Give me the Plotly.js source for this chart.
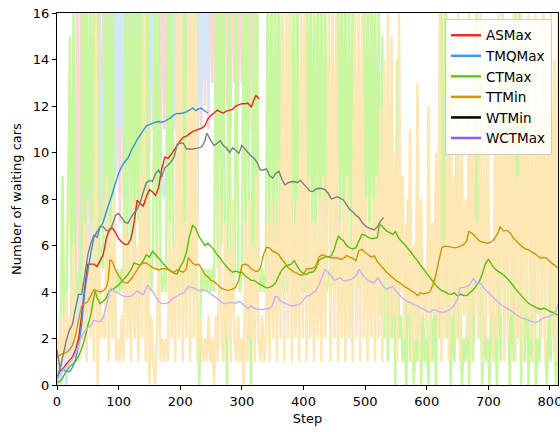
<!DOCTYPE html>
<html>
<head>
<meta charset="utf-8">
<script src="https://cdn.plot.ly/plotly-3.0.1.min.js"></script>
<style>html,body{margin:0;padding:0;background:#fff;}#chart{width:560px;height:432px;}</style>
</head>
<body>
<div id="chart"></div>
<script>
// ---- series names ----
var seriesNames = ["ASMax", "TMQMax", "CTMax", "TTMin", "WTMin", "WCTMax"];

// ---- raw (unsmoothed) samples, one value every RAW_STEP steps ----
var RAW_STEP = 3;
var rawASMax = [0,1,0,2,1,3,1,2,4,2, 3,18,2,19,3,17,5,12,4,15, 6,16,5,18,7,17,8,19,6,16,
  8,18,9,17,7,19,8,16,9,18, 8,17,10,19,9,16,11,18,9,17, 10,19,11,18,10,17,9,20,11,18,
  10,19,12,17,11,18,10,19,12,17, 11,20,12,18,10,19,13,17,11,19, 12,18,11,20,13,17,12,19,11,18,
  13,19,12,17,11,20,13,18,12,19, 13,18,12,20,11,17,13,19,12,18];
var rawTMQMax = [0,1,0,1,2,0,1,2,1,3, 2,4,3,6,2,9,4,8,5,12, 6,14,7,16,8,13,9,17,8,15,
  10,18,9,19,11,17,10,20,9,18, 11,17,10,19,12,18,11,20,10,17, 12,19,11,18,13,9,8,9,8,9,
  13,18,12,20,11,19,13,17,12,18, 8,9,7,8,9,8,7,19,12,20, 13,18,12];
var rawCTMax = [0,1,2,9,2,3,8,15,3,17, 3,4,5,4,18,6,20,5,17,7, 19,4,16,5,6,5,18,4,20,6,
  17,5,4,5,4,5,4,16,5,19, 6,18,4,17,7,20,5,16,4,18, 5,4,6,19,5,17,5,4,5,4,
  18,6,20,5,4,5,4,6,17,5, 19,4,5,4,16,5,3,0,5,4, 5,4,5,4,5,4,18,5,20,6,
  17,5,0,18,6,5,4,19,5,4, 5,17,6,20,5,0,16,4,18,5, 4,5,4,5,18,6,19,5,17,6,
  20,5,4,5,4,5,18,6,17,4, 19,5,4,5,4,18,6,20,5,16, 4,19,6,17,5,18,4,5,4,5,
  4,5,20,6,18,5,19,4,17,6, 18,5,4,5,4,5,19,6,17,5, 20,4,18,6,16,3,15,2,9,1,
  12,2,7,0,14,2,3,1,2,0, 8,1,3,0,2,1,5,0,3,1, 2,0,4,1,3,0,9,2,17,3,
  16,2,6,0,3,1,10,2,4,0, 2,1,3,0,6,1,4,16,2,5, 0,3,1,2,0,4,1,3,0,7,
  1,16,2,15,3,0,5,1,17,2, 16,0,4,1,6,0,3,1,8,0, 2,1,5,16,2,0,3,1,10,2, 0,3];
var rawTTMin = [2,1,3,1,2,4,1,3,2,6, 1,2,1,3,2,7,1,8,2,6, 1,16,0,5,2,3,2,9,1,7,
  2,8,1,2,1,3,1,7,2,6, 1,8,2,6,1,9,2,17,1,8, 0,3,1,0,2,6,1,2,1,2,
  1,7,2,6,1,17,2,18,1,7, 2,16,1,18,2,17,1,3,2,1, 2,1,3,1,2,0,3,1,8,2,
  1,7,2,6,1,8,2,1,3,1, 2,0,7,1,8,2,6,1,9,2, 1,3,1,2,7,1,8,2,7,1,
  8,2,17,1,18,2,16,1,7,2, 8,1,17,2,18,1,9,2,7,1, 7,2,8,1,9,2,6,17,1,18,
  2,16,1,7,2,8,1,9,2,6, 1,17,2,18,1,16,2,8,1,7, 2,8,1,9,2,12,1,14,3,16,
  2,15,3,10,1,16,4,9,2,7, 3,11,1,6,2,13,1,8,3,5, 2,12,1,7,3,10,2,16,1,6,
  2,16,1,15,3,9,2,16,1,11, 3,8,2,16,1,14,3,7,2,16, 1,10,2,12,3,6,1,11,2,16,
  3,16,1,15,2,14,3,16,1,9, 2,16,1,13,3,16,2,10,1,16, 3,12,2,16,1,15,3,16,2,14, 1,16];

// ---- smoothed curves: [step, value] ----
var smASMax = [[0,0.3],[5,0.6],[10,0.7],[15,0.9],[20,1.05],[25,1.2],[30,1.5],[35,2.0],[40,3.0],[45,4.2],
  [50,5.2],[55,5.2],[60,5.2],[65,5.1],[70,5.35],[75,5.6],[80,6.3],[85,6.7],[90,6.75],[95,6.55],
  [100,6.3],[105,6.15],[110,6.05],[115,6.05],[120,6.3],[125,6.95],[130,7.95],[135,7.8],[140,7.7],[145,8.1],
  [150,8.4],[155,8.3],[160,8.15],[165,8.5],[170,9.3],[175,9.8],[180,9.75],[185,9.9],[190,10.1],[195,10.3],
  [200,10.5],[205,10.65],[210,10.7],[215,10.8],[220,10.9],[225,10.95],[230,11.0],[235,11.05],[240,11.15],[245,11.45],
  [250,11.6],[255,11.7],[260,11.82],[265,11.75],[270,11.7],[275,11.78],[280,11.82],[285,11.85],[290,12.0],[295,12.05],
  [300,12.1],[305,12.1],[310,12.12],[315,11.95],[320,12.3],[323,12.45],[325,12.4],[328,12.3]];
var smTMQMax = [[0,0.3],[5,0.7],[10,0.65],[15,0.6],[20,0.57],[25,0.75],[30,1.1],[35,1.7],[40,2.6],[45,4.0],
  [50,4.9],[55,5.7],[60,6.35],[65,6.6],[70,6.8],[75,7.0],[80,7.45],[85,7.85],[90,8.25],[95,8.7],
  [100,9.1],[105,9.4],[110,9.6],[115,9.75],[120,10.05],[125,10.3],[130,10.55],[135,10.75],[140,10.95],[145,11.15],
  [150,11.2],[155,11.25],[160,11.3],[165,11.33],[170,11.3],[175,11.35],[180,11.42],[185,11.5],[190,11.62],[195,11.68],
  [200,11.68],[205,11.7],[210,11.75],[215,11.82],[220,11.92],[225,11.8],[230,11.88],[235,11.9],[240,11.78],[245,11.7]];
var smCTMax = [[0,0.1],[5,0.15],[10,0.35],[15,0.6],[20,0.78],[25,0.9],[30,1.0],[35,1.25],[40,1.55],[45,2.0],
  [50,2.55],[55,3.05],[60,3.8],[62,4.05],[65,3.75],[70,3.5],[75,3.6],[80,3.75],[85,4.05],[90,4.1],
  [95,4.2],[100,4.3],[105,4.45],[110,4.6],[115,4.75],[120,4.95],[125,5.25],[130,5.2],[135,5.15],[140,5.35],
  [145,5.6],[150,5.5],[155,5.75],[160,5.6],[165,5.45],[170,5.3],[175,5.15],[180,5.0],[185,4.9],[190,4.8],
  [195,4.78],[200,5.1],[205,5.3],[210,5.7],[215,6.4],[220,6.86],[225,6.75],[230,6.4],[235,6.2],[240,6.0],
  [245,6.1],[250,5.95],[255,5.8],[260,5.6],[265,5.45],[270,5.25],[275,5.1],[280,4.95],[285,4.85],[290,4.9],
  [295,4.85],[300,4.85],[305,4.7],[310,4.6],[315,4.5],[320,4.5],[325,4.4],[330,4.32],[335,4.25],[340,4.18],
  [345,4.2],[350,4.27],[355,4.4],[360,4.7],[365,4.95],[370,5.1],[375,5.15],[380,5.2],[385,5.35],[390,5.1],
  [395,4.9],[400,4.8],[405,4.75],[410,4.85],[415,4.85],[420,5.0],[425,5.35],[430,5.45],[435,5.5],[440,5.52],
  [445,5.55],[450,5.85],[455,6.3],[457,6.4],[460,6.3],[465,6.2],[470,6.0],[475,5.9],[480,5.85],[485,5.9],
  [490,6.2],[495,6.48],[500,6.45],[505,6.35],[510,6.3],[515,6.3],[520,6.35],[523,6.9],[527,6.85],[530,6.75],
  [535,6.62],[540,6.55],[545,6.48],[549,6.6],[555,6.3],[560,6.15],[565,6.02],[570,5.85],[575,5.7],[580,5.5],
  [585,5.35],[590,5.15],[595,4.98],[600,4.8],[605,4.62],[610,4.45],[615,4.28],[620,4.15],[625,4.05],[630,4.0],
  [635,3.92],[640,3.9],[645,3.96],[650,3.83],[655,3.9],[660,3.85],[665,3.85],[670,3.97],[675,4.08],[680,4.25],
  [685,4.45],[690,4.75],[695,5.2],[700,5.41],[705,5.2],[710,5.02],[715,4.9],[720,4.82],[725,4.72],[730,4.6],
  [735,4.45],[740,4.28],[745,4.1],[750,3.95],[755,3.8],[760,3.65],[765,3.52],[770,3.43],[775,3.37],[780,3.3],
  [785,3.26],[790,3.3],[795,3.25],[800,3.16],[805,3.12],[810,3.05],[813,3.0]];
var smTTMin = [[0,1.2],[5,1.3],[10,1.35],[15,1.4],[20,1.5],[25,1.7],[30,2.1],[35,2.8],[40,3.4],[45,3.5],
  [50,3.6],[55,3.85],[60,4.1],[65,4.05],[70,4.0],[75,4.05],[80,4.2],[83,4.5],[86,5.4],[90,5.3],
  [95,4.95],[100,4.7],[105,4.5],[110,4.4],[115,4.4],[120,4.55],[125,4.75],[130,4.95],[135,5.15],[140,5.25],
  [145,5.25],[150,5.15],[155,5.05],[160,5.0],[165,4.95],[170,5.0],[175,5.0],[180,4.98],[185,4.88],[190,4.85],
  [195,4.95],[200,4.9],[205,4.85],[210,5.0],[213,5.47],[217,5.35],[220,5.25],[225,5.15],[230,5.2],[235,5.0],
  [240,4.75],[245,4.65],[250,4.5],[255,4.45],[260,4.32],[265,4.2],[270,4.12],[275,4.08],[280,4.08],[285,4.12],
  [290,4.2],[295,4.5],[300,5.15],[305,5.2],[310,5.15],[315,5.0],[320,4.92],[325,4.88],[330,5.0],[335,5.6],
  [340,5.92],[345,5.9],[350,5.75],[355,5.7],[360,5.6],[365,5.4],[370,5.25],[375,5.05],[380,4.95],[385,4.85],
  [390,4.8],[395,4.72],[400,4.75],[405,5.0],[410,5.0],[415,5.02],[420,5.1],[425,5.5],[430,5.6],[435,5.55],
  [440,5.5],[445,5.47],[450,5.47],[455,5.47],[460,5.4],[465,5.45],[470,5.57],[475,5.5],[480,5.45],[485,5.35],
  [490,5.78],[495,5.84],[500,5.7],[505,5.6],[510,5.5],[515,5.55],[520,5.3],[525,5.15],[530,5.0],[535,4.85],
  [540,4.72],[545,4.62],[550,4.5],[555,4.42],[560,4.32],[565,4.22],[570,4.15],[575,4.05],[580,3.98],[585,3.85],
  [590,3.97],[595,3.92],[600,3.95],[605,4.0],[610,4.3],[615,4.75],[620,5.4],[625,5.92],[630,5.97],[635,5.95],
  [640,5.93],[645,5.9],[650,5.92],[655,5.97],[660,6.05],[665,6.2],[668,6.6],[672,6.55],[676,6.47],[680,6.35],
  [685,6.2],[690,6.15],[695,6.12],[700,6.1],[705,6.15],[710,6.3],[715,6.5],[719,6.8],[725,6.62],[730,6.65],
  [735,6.55],[740,6.35],[745,6.2],[750,6.08],[755,5.95],[760,5.85],[765,5.82],[770,5.72],[775,5.66],[780,5.55],
  [785,5.45],[790,5.48],[795,5.45],[800,5.3],[805,5.2],[810,5.1],[813,5.03]];
var smWTMin = [[0,1.5],[5,0.7],[10,1.3],[15,1.9],[20,2.35],[25,2.6],[30,3.3],[35,3.9],[40,3.9],[45,4.7],
  [50,5.6],[55,6.1],[60,6.45],[65,6.35],[70,6.8],[75,6.8],[80,6.65],[85,6.6],[90,6.9],[95,7.3],
  [100,7.38],[105,7.2],[110,7.0],[115,6.95],[120,7.2],[125,7.4],[130,7.55],[135,7.85],[140,8.3],[145,8.7],
  [150,8.8],[155,8.75],[160,9.1],[165,9.25],[170,8.95],[175,9.35],[180,9.45],[185,9.6],[190,9.8],[195,10.35],
  [200,10.4],[205,10.4],[210,10.15],[215,10.15],[220,10.15],[225,10.18],[230,10.2],[235,10.25],[240,10.5],[243,10.83],
  [245,10.75],[250,10.5],[255,10.3],[260,10.4],[265,10.5],[270,10.3],[275,10.2],[280,10.0],[285,10.2],[290,10.1],
  [295,9.96],[300,10.3],[305,10.15],[310,10.0],[315,9.85],[320,9.75],[325,9.55],[330,9.25],[335,9.25],[340,9.3],
  [345,9.0],[350,8.9],[355,9.1],[360,9.2],[365,8.85],[370,8.6],[375,8.7],[380,8.74],[385,8.75],[390,8.7],
  [395,8.8],[400,8.65],[405,8.5],[410,8.35],[415,8.32],[420,8.42],[425,8.46],[430,8.45],[435,8.4],[440,8.25],
  [445,8.0],[450,8.05],[455,8.1],[460,8.03],[465,7.95],[470,7.75],[475,7.55],[480,7.45],[485,7.3],[490,7.2],
  [495,7.0],[500,6.85],[505,6.76],[510,6.72],[515,6.68],[520,6.8],[525,7.05],[530,7.2]];
var smWCTMax = [[0,0.2],[5,0.45],[10,0.65],[15,0.8],[20,0.95],[25,1.1],[30,1.35],[35,1.7],[40,2.1],[45,2.3],
  [50,2.45],[55,2.55],[60,2.78],[65,2.75],[70,2.72],[75,2.9],[80,3.4],[85,4.0],[88,4.18],[90,4.1],
  [95,4.0],[100,3.96],[105,3.85],[110,3.8],[115,3.8],[120,3.82],[125,3.92],[130,4.05],[135,3.95],[140,3.88],
  [145,4.2],[148,4.28],[150,4.15],[155,4.05],[160,3.8],[165,3.6],[170,3.5],[175,3.5],[180,3.52],[185,3.65],
  [190,3.75],[195,3.82],[200,3.92],[205,3.95],[210,4.1],[213,4.25],[217,4.2],[222,4.18],[227,4.1],[232,4.05],
  [237,4.12],[242,4.05],[246,4.0],[250,3.9],[255,3.82],[260,3.72],[265,3.6],[270,3.5],[275,3.5],[280,3.55],
  [285,3.55],[290,3.52],[295,3.6],[300,3.52],[305,3.4],[310,3.3],[315,3.4],[320,3.3],[325,3.25],[330,3.25],
  [335,3.25],[340,3.28],[345,3.28],[350,3.45],[354,3.8],[358,3.78],[362,3.63],[367,3.55],[373,3.48],[378,3.42],
  [384,3.4],[390,3.45],[395,3.5],[400,3.65],[405,3.82],[410,3.85],[415,3.95],[420,4.05],[425,4.3],[430,4.62],
  [435,4.97],[440,4.85],[445,4.7],[450,4.5],[455,4.55],[459,4.62],[464,4.5],[468,4.47],[473,4.52],[478,4.55],
  [483,4.65],[487,4.78],[490,4.98],[495,4.78],[500,4.6],[505,4.5],[510,4.43],[515,4.4],[520,4.6],[525,4.45],
  [530,4.22],[535,4.11],[540,4.2],[545,4.22],[550,4.05],[555,3.9],[560,3.75],[565,3.65],[570,3.57],[575,3.52],
  [580,3.45],[585,3.4],[590,3.32],[595,3.26],[600,3.18],[605,3.12],[610,3.25],[615,3.22],[620,3.15],[625,3.12],
  [630,3.15],[635,3.22],[640,3.3],[645,3.45],[650,3.7],[654,4.18],[660,4.2],[665,4.23],[670,4.32],[676,4.6],
  [681,4.35],[687,4.38],[692,4.2],[697,4.05],[703,3.9],[708,3.76],[715,3.58],[722,3.42],[728,3.33],[735,3.22],
  [741,3.11],[747,3.0],[752,2.9],[757,2.86],[762,2.82],[768,2.76],[776,2.68],[782,2.75],[790,2.9],[795,2.93],
  [800,2.97],[805,3.05],[810,3.2],[813,3.47]];

// ---- axis ticks ----
var xTicks = [0,100,200,300,400,500,600,700,800];
var yTicks = [0,2,4,6,8,10,12,14,16];

// ---- styles ----
var legendColors = ["#e63323","#3f9de0","#66cc00","#cc9900","#000000","#8b5cf6"];
var smoothColors = ["#e3271c","#3a94dc","#5cbd08","#cc9400","#7f7f7f","#c6b2fa"];
var rawColors = {AS:"#f9d7d5", TMQ:"#d3e7f6", CT:"#c8f7a0", TT:"#fde7b4"};

function rawTrace(vals, color) {
  var xs = vals.map(function(v, i){ return i * RAW_STEP; });
  return {x: xs, y: vals, type: "scatter", mode: "lines", showlegend: false,
          hoverinfo: "skip", line: {color: color, width: 2.5, simplify: false}};
}
function smTrace(pairs, color) {
  return {x: pairs.map(function(p){return p[0];}), y: pairs.map(function(p){return p[1];}),
          type: "scatter", mode: "lines", showlegend: false,
          line: {color: color, width: 1.4, simplify: false}};
}

var traces = [
  rawTrace(rawASMax, rawColors.AS),
  rawTrace(rawTMQMax, rawColors.TMQ),
  rawTrace(rawCTMax, rawColors.CT),
  rawTrace(rawTTMin, rawColors.TT),
  smTrace(smASMax, smoothColors[0]),
  smTrace(smTMQMax, smoothColors[1]),
  smTrace(smCTMax, smoothColors[2]),
  smTrace(smTTMin, smoothColors[3]),
  smTrace(smWTMin, smoothColors[4]),
  smTrace(smWCTMax, smoothColors[5])
];
seriesNames.forEach(function(n, i){
  traces.push({x:[null], y:[null], type:"scatter", mode:"lines", name:n,
               line:{color: legendColors[i], width: 2.5}});
});

var font = {family: "DejaVu Sans, sans-serif", size: 13, color: "#000"};
var layout = {
  width: 560, height: 432,
  margin: {l: 57, r: 2, t: 13, b: 47, pad: 0},
  paper_bgcolor: "#fff", plot_bgcolor: "#fff",
  font: font,
  showlegend: true,
  legend: {x: 0.988, xanchor: "right", y: 0.984, yanchor: "top",
           bgcolor: "rgba(255,255,255,0.85)", bordercolor: "#cccccc", borderwidth: 1,
           font: {family: "DejaVu Sans, sans-serif", size: 13.5, color: "#000"}},
  xaxis: {range: [0, 813], tickvals: xTicks, ticktext: xTicks.map(String),
          ticklabeloverflow: "allow",
          showgrid: false, zeroline: false, showline: true, mirror: true,
          linecolor: "#000", linewidth: 1, ticks: "outside", ticklen: 4, tickcolor: "#000",
          title: {text: "Step", font: font, standoff: 6}},
  yaxis: {range: [0, 16], tickvals: yTicks, ticktext: yTicks.map(String),
          showgrid: false, zeroline: false, showline: true, mirror: true,
          linecolor: "#000", linewidth: 1, ticks: "outside", ticklen: 4, tickcolor: "#000",
          title: {text: "Number of waiting cars", font: font, standoff: 8}}
};
Plotly.newPlot("chart", traces, layout, {displayModeBar: false, staticPlot: true});
</script>
</body>
</html>
